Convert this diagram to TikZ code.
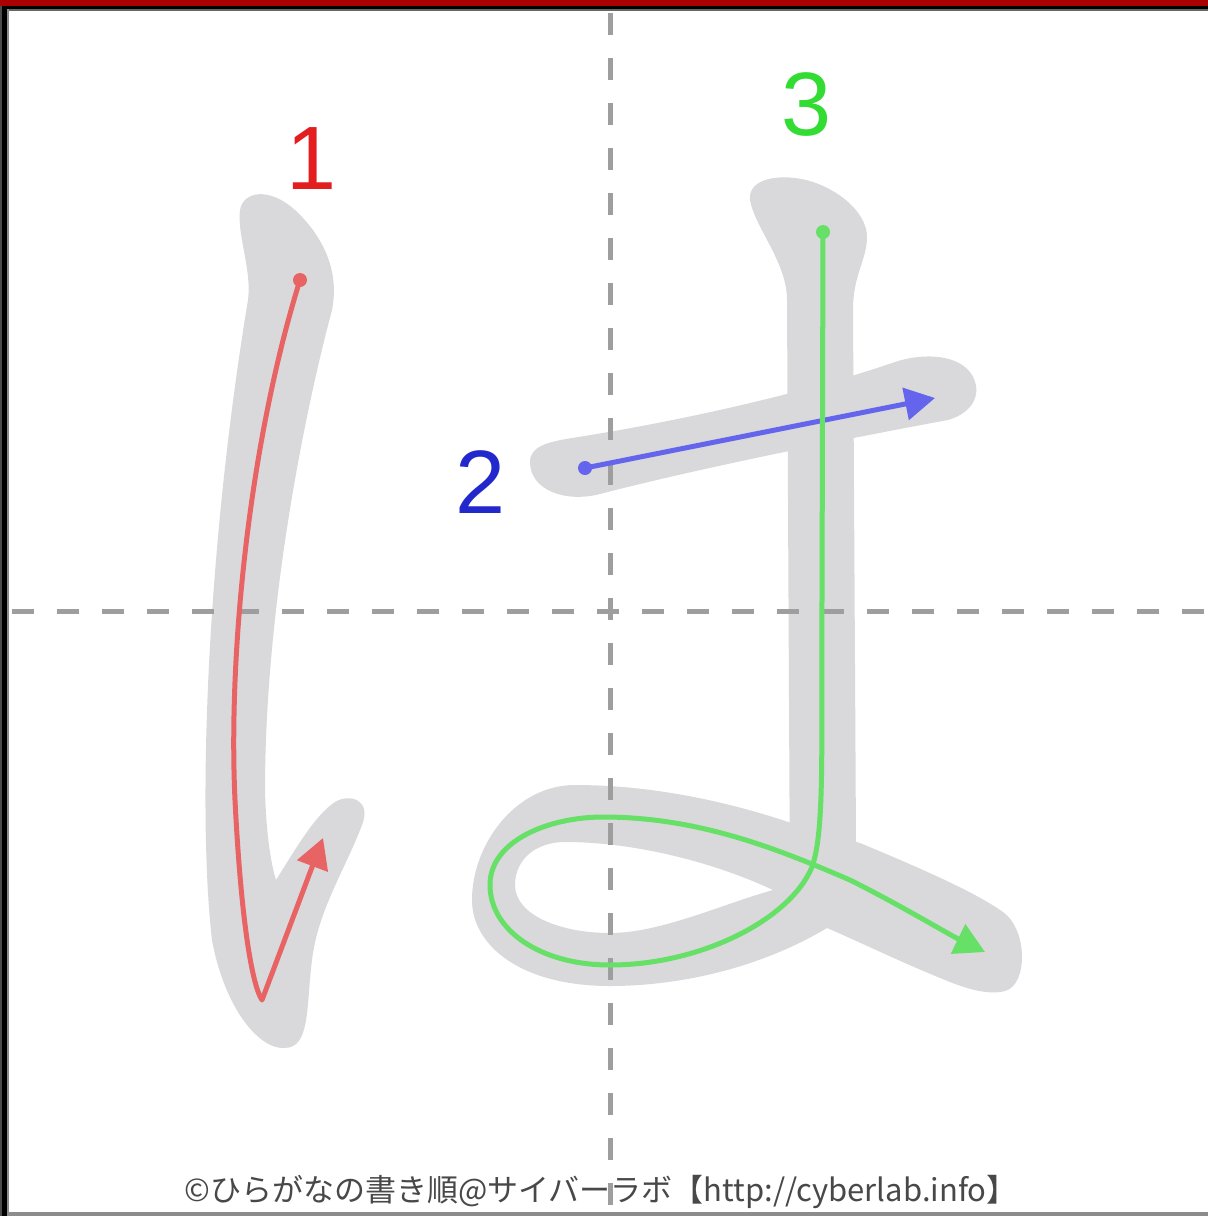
\documentclass[tikz,border=0pt]{standalone}
\usepackage{fontspec}
\setmainfont{Liberation Sans}
\newfontfamily\jpfont{Noto Sans CJK JP}
\usetikzlibrary{arrows.meta}
\definecolor{brush}{RGB}{217,217,219}
\definecolor{guide}{RGB}{158,158,158}
\definecolor{sred}{RGB}{232,100,100}
\definecolor{sblue}{RGB}{100,100,236}
\definecolor{sgreen}{RGB}{102,224,102}
\definecolor{nred}{RGB}{228,30,30}
\definecolor{nblue}{RGB}{34,40,204}
\definecolor{ngreen}{RGB}{50,220,50}
\definecolor{topred}{RGB}{170,0,0}
\definecolor{footgray}{RGB}{72,72,72}
\begin{document}
\begin{tikzpicture}[x=0.5pt,y=-0.5pt,
  guideline/.style={draw=guide, line width=2.5pt, dash pattern=on 11pt off 11.5pt},
  order/.style={line width=2.5pt, line cap=round, line join=round, -{Triangle[length=15pt,width=16pt]}},
  startdot/.style={radius=3.5pt},
  num/.style={font=\fontsize{45}{50}\selectfont, inner sep=0pt}
]
\useasboundingbox (0,0) rectangle (1208,1216);
\fill[white] (0,0) rectangle (1208,1216);

% brush shapes
\fill[brush] (240,210) .. controls (243,192) and (268,186) .. (295,210)
  .. controls (322,235) and (340,270) .. (332,310)
  .. controls (300,430) and (265,620) .. (265,790)
  .. controls (266,830) and (270,860) .. (276,880)
  .. controls (295,850) and (315,815) .. (335,802)
  .. controls (350,793) and (372,800) .. (362,825)
  .. controls (345,870) and (318,910) .. (312,960)
  .. controls (306,1010) and (310,1047) .. (285,1048)
  .. controls (260,1050) and (225,1010) .. (212,940)
  .. controls (198,820) and (205,560) .. (248,300)
  .. controls (252,270) and (237,235) .. (240,210) -- cycle;

\fill[brush] (530,462) .. controls (530,446) and (548,442) .. (572,438)
  .. controls (700,418) and (820,388) .. (895,362)
  .. controls (925,352) and (960,355) .. (972,375)
  .. controls (982,392) and (975,412) .. (948,420)
  .. controls (850,438) and (700,468) .. (600,494)
  .. controls (565,503) and (530,490) .. (530,462) -- cycle;

\fill[brush] (750,200) .. controls (748,182) and (770,175) .. (795,178)
  .. controls (830,182) and (868,210) .. (867,238)
  .. controls (866,262) and (853,275) .. (853,310)
  -- (856,843) -- (862,900) -- (790,900) -- (787,300)
  .. controls (787,262) and (755,228) .. (750,200) -- cycle;

\fill[brush, even odd rule] (575,785) .. controls (660,785) and (740,805) .. (800,826)
  -- (860,843)
  .. controls (920,868) and (975,892) .. (1003,912)
  .. controls (1028,930) and (1028,985) .. (1005,991)
  .. controls (990,995) and (970,990) .. (950,982)
  .. controls (900,962) and (860,942) .. (827,928)
  .. controls (760,968) and (680,986) .. (610,986)
  .. controls (520,986) and (472,945) .. (472,900)
  .. controls (472,845) and (515,785) .. (575,785) -- cycle
  (515,885) .. controls (515,860) and (535,842) .. (565,842)
  .. controls (640,842) and (720,865) .. (773,890)
  .. controls (720,905) and (660,933) .. (610,933)
  .. controls (560,933) and (515,915) .. (515,885) -- cycle;

% guide lines
\coordinate (vtop) at (610,13);
\coordinate (vbot) at (610,1212);
\coordinate (hleft) at (12,611);
\coordinate (hright) at (1208,611);
\draw[guideline] (vtop) -- (vbot);
\draw[guideline] (hleft) -- (hright);

% stroke 1
\coordinate (s1a) at (300,280);
\coordinate (s1b) at (262,1000);
\coordinate (s1c) at (323,838);
\fill[sred] (s1a) circle[startdot];
\draw[order, sred] (s1a) .. controls (250,440) and (228,650) .. (235,800)
  .. controls (241,920) and (252,985) .. (s1b) -- (s1c);

% stroke 2
\coordinate (s2a) at (585,468);
\coordinate (s2b) at (935,398);
\fill[sblue] (s2a) circle[startdot];
\draw[order, sblue] (s2a) -- (s2b);

% stroke 3
\coordinate (s3a) at (823,232);
\coordinate (s3b) at (985,952);
\fill[sgreen] (s3a) circle[startdot];
\draw[order, sgreen] (s3a) -- (822,600)
  .. controls (821,750) and (825,830) .. (812,867)
  .. controls (790,920) and (700,965) .. (610,965)
  .. controls (540,965) and (490,930) .. (490,885)
  .. controls (490,840) and (550,817) .. (603,817)
  .. controls (700,817) and (780,850) .. (850,880)
  .. controls (900,905) and (950,935) .. (s3b);

% numbers
\node[num, text=nred] (n1) at (312,159) {1};
\node[num, text=nblue] (n2) at (481,482) {2};
\node[num, text=ngreen] (n3) at (807,105) {3};

% footer
\node[font=\jpfont\fontsize{15.5}{18}\selectfont, text=footgray, inner sep=0pt] (credit) at (601,1192)
  {©ひらがなの書き順@サイバーラボ【http://cyberlab.info】};

% frame
\fill[topred] (0,0) rectangle (1208,6);
\fill[black] (0,6) rectangle (1208,9);
\fill[black!60] (0,9) rectangle (1208,11);
\fill[black!70] (0,6) rectangle (2,1216);
\fill[black] (2,6) rectangle (7,1216);
\fill[black!45] (7,9) rectangle (9,1213);
\fill[black!45] (7,1212) rectangle (1208,1216);
\end{tikzpicture}
\end{document}
